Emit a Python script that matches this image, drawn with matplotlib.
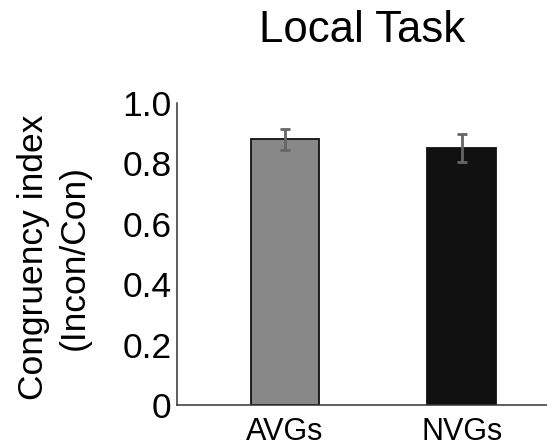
import matplotlib
matplotlib.use("Agg")
import matplotlib.pyplot as plt

categories = ["AVGs", "NVGs"]
values = [0.88, 0.85]
errors = [0.034, 0.046]
bar_colors = ["#888888", "#111111"]
yticks = [0, 0.2, 0.4, 0.6, 0.8, 1.0]
ytick_labels = ["0", "0.2", "0.4", "0.6", "0.8", "1.0"]

plt.rcParams['font.family'] = ['Liberation Sans', 'DejaVu Sans']

fig = plt.figure(figsize=(5.47, 4.47), dpi=100)
ax = fig.add_axes([177/547, 42/447, 370/547, 302/447])

x = list(range(len(categories)))
ax.bar(x, values, width=0.39, color=bar_colors, edgecolor="#111111", linewidth=1.3, zorder=2)
ax.errorbar(x, values, yerr=errors, fmt="none", ecolor="#666666", elinewidth=2.0,
            capsize=3.5, capthick=2.0, zorder=3)

ax.set_xlim(-0.611, 1.483)
ax.set_ylim(0, 1.0)
ax.set_yticks(yticks)
ax.set_yticklabels(ytick_labels)
ax.set_xticks(x)
ax.set_xticklabels(categories)

ax.tick_params(axis='y', length=0, pad=4, labelsize=25.5)
ax.tick_params(axis='x', length=0, pad=9, labelsize=22)

for s in ["top", "right"]:
    ax.spines[s].set_visible(False)
for s in ["left", "bottom"]:
    ax.spines[s].set_color("#333333")
    ax.spines[s].set_linewidth(1.1)

ax.set_ylabel("Congruency index\n(Incon/Con)", fontsize=25.5, linespacing=1.3)
ax.yaxis.set_label_coords(-0.232, 0.49)

fig.text(362/547, 1 - 31/447, "Local Task", ha="center", va="center", fontsize=31.5)

fig.savefig("out.png", dpi=100)
